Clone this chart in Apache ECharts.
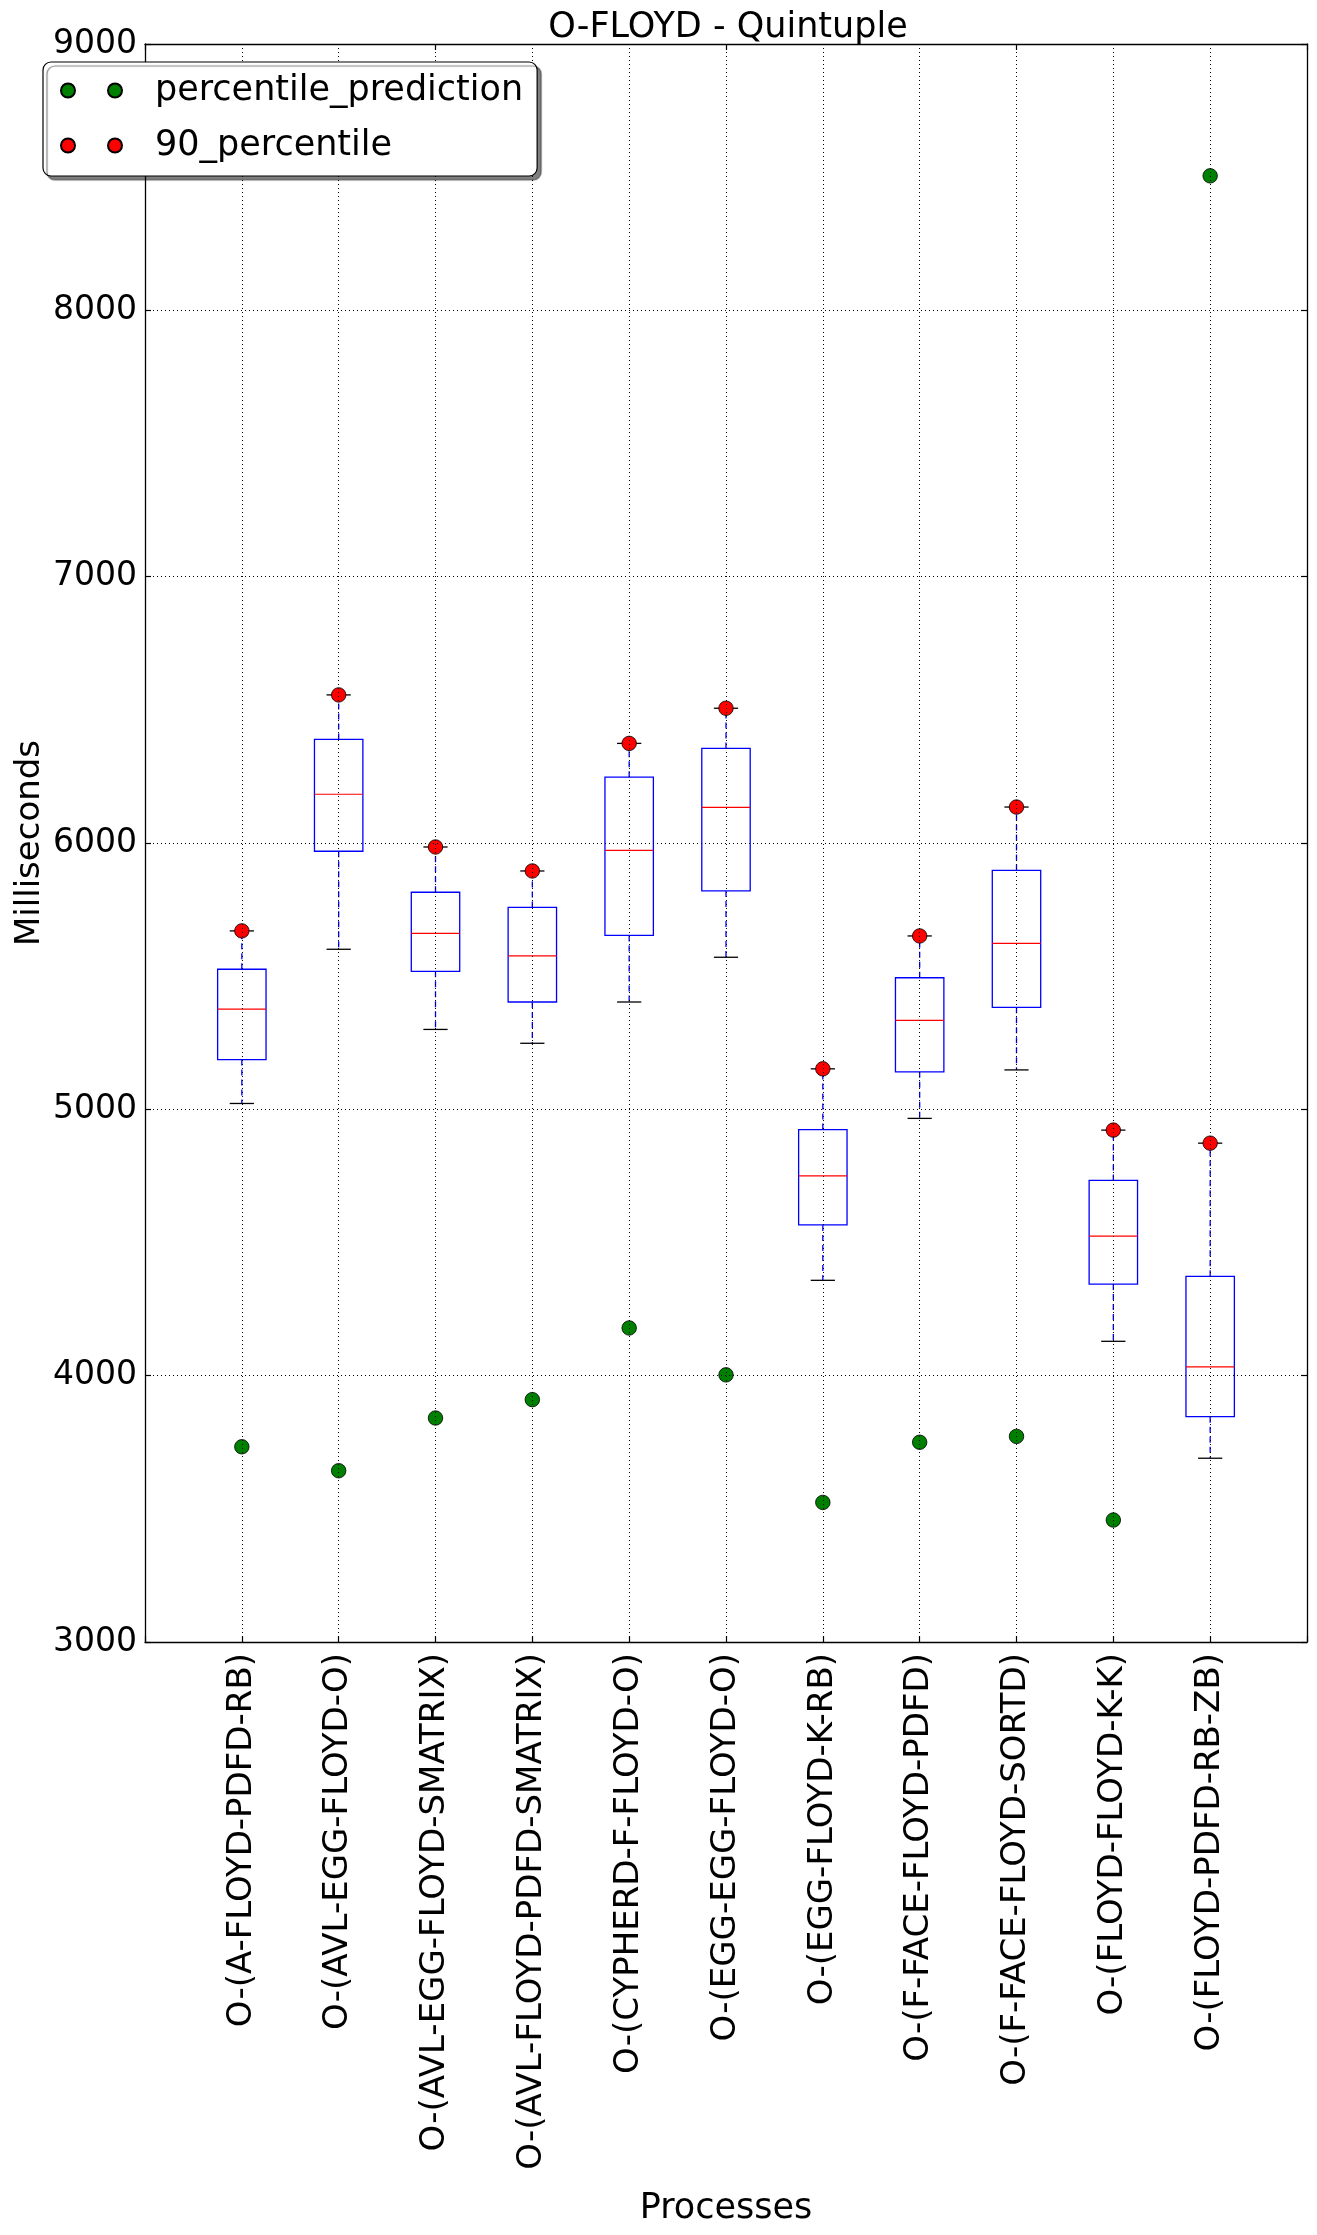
<!DOCTYPE html>
<html>
<head>
<meta charset="utf-8">
<script src="https://cdn.jsdelivr.net/npm/echarts@6/dist/echarts.min.js"></script>
<style>
html, body { margin: 0; padding: 0; background: #fff; }
#chart { width: 1317px; height: 2235px; }
</style>
</head>
<body>
<div id="chart"></div>
<script>
const categories = [
  'O-(A-FLOYD-PDFD-RB)', 'O-(AVL-EGG-FLOYD-O)', 'O-(AVL-EGG-FLOYD-SMATRIX)',
  'O-(AVL-FLOYD-PDFD-SMATRIX)', 'O-(CYPHERD-F-FLOYD-O)', 'O-(EGG-EGG-FLOYD-O)',
  'O-(EGG-FLOYD-K-RB)', 'O-(F-FACE-FLOYD-PDFD)', 'O-(F-FACE-FLOYD-SORTD)',
  'O-(FLOYD-FLOYD-K-K)', 'O-(FLOYD-PDFD-RB-ZB)'
];
const whiskerLow  = [5022, 5601, 5300, 5248, 5403, 5571, 4358, 4966, 5148, 4129, 3690];
const q1          = [5187, 5969, 5518, 5403, 5653, 5820, 4566, 5141, 5383, 4344, 3846];
const median      = [5376, 6183, 5661, 5576, 5972, 6134, 4750, 5334, 5623, 4524, 4033];
const q3          = [5526, 6389, 5815, 5758, 6247, 6355, 4924, 5494, 5897, 4733, 4373];
const whiskerHigh = [5670, 6556, 5985, 5895, 6374, 6506, 5152, 5651, 6135, 4922, 4873];
const percentile90 = [5670, 6556, 5985, 5895, 6374, 6506, 5152, 5651, 6135, 4922, 4873];
const prediction   = [3733, 3643, 3841, 3910, 4179, 4003, 3524, 3750, 3772, 3458, 8505];
const yMin = 3000, yMax = 9000, yStep = 1000;

const FONT = 'DejaVu Sans';
const chart = echarts.init(document.getElementById('chart'), null, { renderer: 'canvas' });

const boxData = categories.map((c, i) => [i + 1, whiskerLow[i], q1[i], median[i], q3[i], whiskerHigh[i]]);
const predData = prediction.map((v, i) => [i + 1, v]);
const p90Data = percentile90.map((v, i) => [i + 1, v]);

function renderBox(params, api) {
  const x = api.value(0);
  const pLow = api.coord([x, api.value(1)]);
  const pQ1 = api.coord([x, api.value(2)]);
  const pMed = api.coord([x, api.value(3)]);
  const pQ3 = api.coord([x, api.value(4)]);
  const pHigh = api.coord([x, api.value(5)]);
  const band = api.size([1, 0])[0];
  const bw = band * 0.5, cw = bw * 0.5, cx = pMed[0];
  const blue = '#0000ff';
  return {
    type: 'group',
    children: [
      { type: 'line', shape: { x1: cx, y1: pQ3[1], x2: cx, y2: pHigh[1] },
        style: { stroke: blue, lineWidth: 1.3, lineDash: [6, 4] } },
      { type: 'line', shape: { x1: cx, y1: pQ1[1], x2: cx, y2: pLow[1] },
        style: { stroke: blue, lineWidth: 1.3, lineDash: [6, 4] } },
      { type: 'line', shape: { x1: cx - cw / 2, y1: pHigh[1], x2: cx + cw / 2, y2: pHigh[1] },
        style: { stroke: '#000', lineWidth: 1.3 } },
      { type: 'line', shape: { x1: cx - cw / 2, y1: pLow[1], x2: cx + cw / 2, y2: pLow[1] },
        style: { stroke: '#000', lineWidth: 1.3 } },
      { type: 'rect', shape: { x: cx - bw / 2, y: pQ3[1], width: bw, height: pQ1[1] - pQ3[1] },
        style: { fill: 'none', stroke: blue, lineWidth: 1.3 } },
      { type: 'line', shape: { x1: cx - bw / 2, y1: pMed[1], x2: cx + bw / 2, y2: pMed[1] },
        style: { stroke: '#ff0000', lineWidth: 1.2 } }
    ]
  };
}

const gridLine = { show: true, lineStyle: { color: '#000', width: 1, type: [1, 3] } };
const axisLine = { show: true, lineStyle: { color: '#000', width: 1.3 } };
const tickIn = { show: true, inside: true, length: 6, lineStyle: { color: '#000', width: 1.2 } };
const legendIcon = 'path://M0,7a7,7 0 1,0 14,0a7,7 0 1,0 -14,0M47,7a7,7 0 1,0 14,0a7,7 0 1,0 -14,0M89,7';

chart.setOption({
  animation: false,
  backgroundColor: '#fff',
  title: {
    text: 'O-FLOYD - Quintuple',
    left: 723, top: 5, textAlign: 'center',
    textStyle: { fontFamily: FONT, fontSize: 35, fontWeight: 'normal', color: '#000' }
  },
  legend: {
    orient: 'vertical', left: 43, top: 62,
    data: ['percentile_prediction', '90_percentile'],
    icon: legendIcon, itemWidth: 89, itemHeight: 15, itemGap: 20,
    padding: [11, 14, 13, 17],
    backgroundColor: '#fff', borderColor: '#000', borderWidth: 1.2, borderRadius: 8,
    shadowColor: 'rgba(0,0,0,0.5)', shadowBlur: 1, shadowOffsetX: 4, shadowOffsetY: 4,
    textStyle: { fontFamily: FONT, fontSize: 35, color: '#000' },
    z: 20
  },
  grid: { left: 145, right: 10, top: 44, bottom: 593, containLabel: false, outerBoundsMode: 'none' },
  xAxis: [{
    type: 'category', data: [''].concat(categories, ['']), boundaryGap: false, position: 'bottom',
    axisLine: axisLine, axisTick: tickIn, splitLine: gridLine, z: 10,
    axisLabel: { rotate: 90, interval: 0, fontFamily: FONT, fontSize: 34, color: '#000', margin: 11 },
    name: 'Processes', nameLocation: 'middle', nameGap: 549, nameMoveOverlap: false,
    nameTextStyle: { fontFamily: FONT, fontSize: 35, color: '#000' }
  }, {
    type: 'category', data: [''].concat(categories, ['']), boundaryGap: false, position: 'top',
    axisLine: axisLine, axisTick: tickIn, splitLine: { show: false }, axisLabel: { show: false }, z: 10
  }],
  yAxis: [{
    type: 'value', min: yMin, max: yMax, interval: yStep, position: 'left',
    axisLine: axisLine, axisTick: tickIn, splitLine: gridLine, z: 10,
    axisLabel: { fontFamily: FONT, fontSize: 33, color: '#000', margin: 8, formatter: v => String(v) },
    name: 'Milliseconds', nameLocation: 'middle', nameGap: 98, nameMoveOverlap: false,
    nameTextStyle: { fontFamily: FONT, fontSize: 34, color: '#000' }
  }, {
    type: 'value', min: yMin, max: yMax, interval: yStep, position: 'right',
    axisLine: axisLine, axisTick: tickIn, splitLine: { show: false }, axisLabel: { show: false }, z: 10
  }],
  series: [{
    type: 'custom', name: 'boxes', xAxisIndex: 0, yAxisIndex: 0,
    renderItem: renderBox, data: boxData, z: 2,
    encode: { x: 0, y: [1, 2, 3, 4, 5] }
  }, {
    type: 'scatter', name: '90_percentile', xAxisIndex: 0, yAxisIndex: 0,
    data: p90Data, symbol: 'circle', symbolSize: 14.5, z: 3,
    itemStyle: { color: '#ff0000', borderColor: '#000', borderWidth: 0.8, opacity: 1 }
  }, {
    type: 'scatter', name: 'percentile_prediction', xAxisIndex: 0, yAxisIndex: 0,
    data: predData, symbol: 'circle', symbolSize: 14.5, z: 3,
    itemStyle: { color: '#008000', borderColor: '#000', borderWidth: 0.8, opacity: 1 }
  }]
});
</script>
</body>
</html>
